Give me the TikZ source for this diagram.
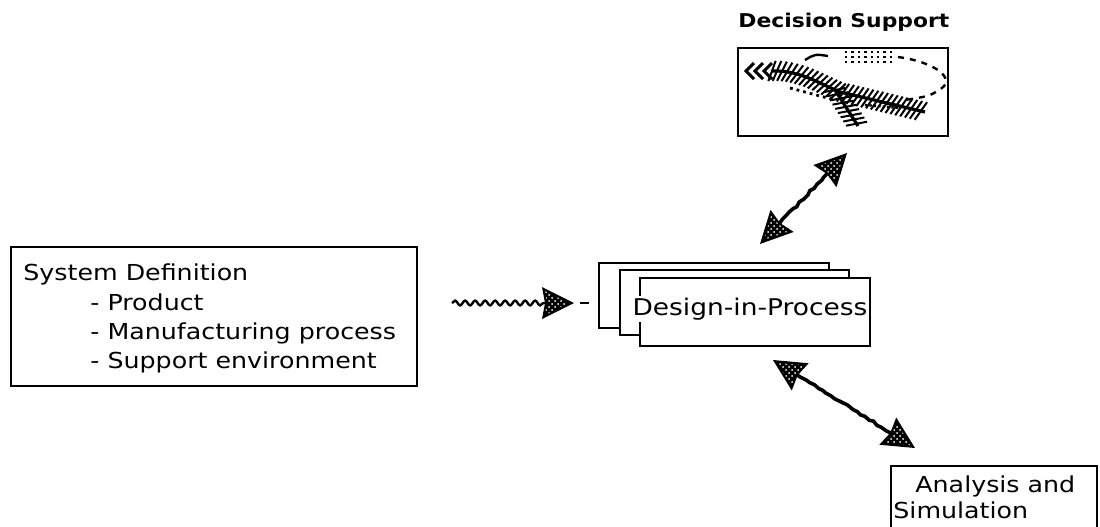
\documentclass[tikz,border=0pt]{standalone}
\usepackage{fontspec}
\setmainfont[FakeStretch=1.15]{DejaVu Sans}
\usetikzlibrary{positioning,calc,patterns,decorations.pathmorphing,decorations.markings}

\begin{document}
\begin{tikzpicture}[
  x=0.5pt, y=-0.5pt,
  box/.style={draw, line width=1.1pt, fill=white, inner sep=0pt, anchor=north west},
  txt/.style={anchor=base west, inner sep=0pt, font=\fontsize{11}{13}\selectfont},
  link/.style={line width=1.8pt, decorate,
    decoration={random steps, segment length=2.5pt, amplitude=0.5pt}},
  wave/.style={line width=1.2pt, decorate,
    decoration={snake, amplitude=1.2pt, segment length=5pt}},
  fishbone/.style={postaction=decorate, decoration={markings,
      mark=between positions 0 and 1 step 2.5pt with
      {\draw [line width=1pt] (-2pt,-5pt) -- (2pt,5pt);}}},
  tip/.style={sloped, allow upside down},
  hatchhead/.pic={
    \fill (0,0) -- (-32,-16) -- (-29,0) -- (-32,16) -- cycle;
    \fill [pattern=crosshatch dots, pattern color=white]
      (-6,0) -- (-29,-12) -- (-27,0) -- (-29,12) -- cycle;
  },
  ]
  \useasboundingbox (0,0) rectangle (1100,526);

  % system definition
  \node [box, minimum width=203pt, minimum height=69.5pt] (sysdef) at (10,246) {};
  \node [txt] (sysdef-title) at (23,280) {System Definition};
  \node [txt] (product) at (90,310) {- Product};
  \node [txt] (mfg)     at (90,339) {- Manufacturing process};
  \node [txt] (support) at (90,368) {- Support environment};

  % design-in-process stack
  \node [box, minimum width=115pt,   minimum height=32.5pt] (dip-back)  at (598,262) {};
  \node [box, minimum width=114.5pt, minimum height=32.5pt] (dip-mid)   at (619,269) {};
  \node [box, minimum width=115pt,   minimum height=34pt]   (dip-front) at (639,277) {};
  \node [fill=white, inner sep=1pt, anchor=base,
    font=\fontsize{11.5}{14}\selectfont] (dip) at (750,315) {Design-in-Process};

  % decision support
  \node [txt, font=\bfseries\fontsize{9.5}{12}\selectfont] (ds-title) at (738,27) {Decision Support};
  \node [box, minimum width=105pt, minimum height=44pt] (ds) at (737,47) {};
  \begin{scope}
    \foreach \x in {746,755,764}
      \draw [line width=1.5pt] (\x+8,63) -- (\x,71) -- (\x+8,79);
    \draw [line width=1.6pt, fishbone] (772,71) .. controls (800,70) and (820,84) .. (840,92) -- (925,112);
    \draw [line width=1.6pt, fishbone] (835,90) -- (858,126);
    \draw [line width=1.2pt] (805,60) .. controls (815,54) .. (828,56);
    \foreach \y in {52,57,62}
      \draw [dotted, line width=1.2pt] (845,\y) -- (893,\y);
    \draw [dashed, line width=1.2pt] (898,57) .. controls (935,62) and (955,78) .. (942,88)
      .. controls (930,96) .. (905,100);
    \draw [dotted, line width=1.4pt] (790,88) -- (835,100);
    \draw [densely dotted, line width=1.2pt] (865,105) -- (900,108);
  \end{scope}

  % analysis and simulation
  \node [box, minimum width=103pt, minimum height=35pt] (as) at (890,465) {};
  \node [txt] (as-line1) at (915,492) {Analysis and};
  \node [txt] (as-line2) at (893,518) {Simulation};

  % connectors
  \coordinate (sd-out)  at (452,303);
  \coordinate (dip-in)  at (574,303);
  \coordinate (dip-up)  at (760,244);
  \coordinate (ds-in)   at (847,153);
  \coordinate (dip-dn)  at (773,360);
  \coordinate (as-in)   at (915,448);

  \draw [wave] (sd-out) -- ($(dip-in)!14pt!(sd-out)$);
  \path (sd-out) -- (dip-in) pic [pos=1, tip] {hatchhead};
  \draw [line width=1.2pt] ($(dip-in)+(6,0)$) -- ($(dip-in)+(15,0)$);

  \draw [link] ($(dip-up)!14pt!(ds-in)$) -- ($(ds-in)!14pt!(dip-up)$);
  \path (ds-in) -- (dip-up) pic [pos=0, tip, rotate=180] {hatchhead}
                            pic [pos=1, tip] {hatchhead};

  \draw [link] ($(dip-dn)!14pt!(as-in)$) -- ($(as-in)!14pt!(dip-dn)$);
  \path (as-in) -- (dip-dn) pic [pos=0, tip, rotate=180] {hatchhead}
                            pic [pos=1, tip] {hatchhead};
\end{tikzpicture}
\end{document}
